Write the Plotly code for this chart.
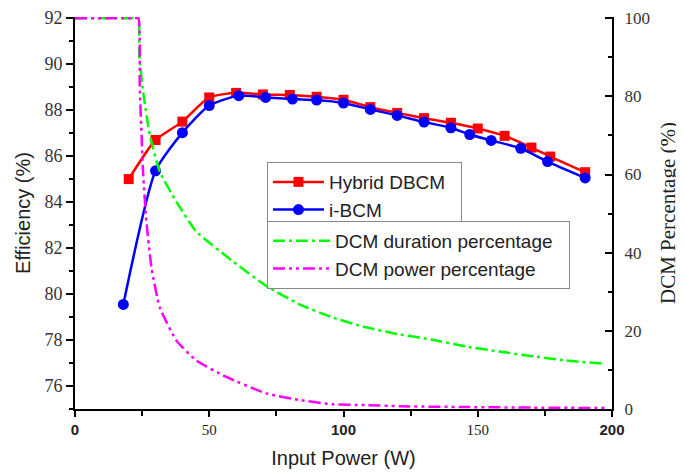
import plotly.graph_objects as go

# Efficiency data (left axis)
hybrid_x = [20, 30, 40, 50, 60, 70, 80, 90, 100, 110, 120, 130, 140, 150, 160, 170, 177, 190]
hybrid_y = [85.0, 86.7, 87.5, 88.55, 88.75, 88.68, 88.66, 88.58, 88.45, 88.13, 87.88, 87.65, 87.45, 87.2, 86.88, 86.37, 85.98, 85.3]

ibcm_x = [18, 30, 40, 50, 61, 71, 81, 90, 100, 110, 120, 130, 140, 147, 155, 166, 176, 190]
ibcm_y = [79.55, 85.36, 87.02, 88.2, 88.63, 88.55, 88.48, 88.44, 88.31, 88.03, 87.77, 87.48, 87.23, 86.94, 86.68, 86.34, 85.76, 85.05]

# DCM percentages (right axis)
dur_x = [0, 22, 23.6, 23.9, 25.4, 27.9, 31.6, 37.8, 45.2, 58.8, 71.2, 83.6, 96.0, 108.4, 120.8, 133.2, 145.6, 158.0, 170.4, 182.8, 196.5]
dur_y = [100, 100, 100, 91, 81, 70, 60.7, 53, 45.4, 37.8, 31.5, 26.8, 23.4, 20.9, 19.1, 17.7, 16.0, 14.7, 13.5, 12.4, 11.6]

pow_x = [0, 22, 23.6, 24.1, 24.8, 25.4, 26.6, 28.5, 31.6, 37.8, 45.2, 56.4, 71.2, 83.6, 96.0, 108.4, 120.8, 145.6, 170.4, 198]
pow_y = [100, 100, 100, 82.7, 70, 59.8, 48, 36.1, 26, 17.5, 12.4, 8.2, 4.0, 2.3, 1.2, 1.0, 0.7, 0.5, 0.35, 0.25]

x_tickvals = [0, 50, 100, 150, 200]
x_ticktext = ["<b>0</b>",
              "<span style='font-family:Liberation Serif;font-weight:normal'>50</span>",
              "<b>100</b>",
              "<span style='font-family:Liberation Serif;font-weight:normal'>150</span>",
              "<b>200</b>"]

NB = "\u00a0"

fig = go.Figure()

fig.add_trace(go.Scatter(
    x=dur_x, y=dur_y, yaxis="y2", mode="lines", name="DCM duration percentage" + NB * 2,
    line=dict(color="#00FF00", width=2.5, dash="12px,4px,3px,4px", shape="spline", smoothing=0.5),
    legend="legend2"))
fig.add_trace(go.Scatter(
    x=pow_x, y=pow_y, yaxis="y2", mode="lines", name="DCM power percentage",
    line=dict(color="#FF00FF", width=2.5, dash="12px,4px,3px,4px,3px,4px", shape="spline", smoothing=0.5),
    legend="legend2"))

fig.add_trace(go.Scatter(
    x=hybrid_x, y=hybrid_y, mode="lines+markers", name="Hybrid DBCM" + NB * 2,
    line=dict(color="#FF0000", width=2.5, shape="spline", smoothing=0.6),
    marker=dict(symbol="square", size=10, color="#FF0000"),
    legend="legend"))
fig.add_trace(go.Scatter(
    x=ibcm_x, y=ibcm_y, mode="lines+markers", name="i-BCM",
    line=dict(color="#0000FF", width=2.5, shape="spline", smoothing=0.6),
    marker=dict(symbol="circle", size=11, color="#0000FF"),
    legend="legend"))

fig.update_layout(
    width=676, height=464,
    margin=dict(l=67, r=72, t=9, b=63, autoexpand=False),
    paper_bgcolor="white", plot_bgcolor="white",
    showlegend=True,
    xaxis=dict(
        range=[0, 200], tickvals=x_tickvals, ticktext=x_ticktext, automargin=False,
        ticks="outside", ticklen=6, tickwidth=2, tickcolor="black", ticklabeloverflow="allow",
        minor=dict(tickvals=[25, 75, 125, 175], ticks="outside", ticklen=5, tickwidth=2, tickcolor="black"),
        showline=True, linecolor="black", linewidth=2, showgrid=False, zeroline=False,
        tickfont=dict(family="Liberation Sans", size=15, color="#222222"),
        title=dict(text="Input Power (W)", font=dict(family="Liberation Sans", size=20, color="#222222"), standoff=14),
    ),
    yaxis=dict(
        range=[75, 92.05], tick0=76, dtick=2, automargin=False, ticklabeloverflow="allow",
        ticks="outside", ticklen=7, tickwidth=2, tickcolor="black",
        minor=dict(dtick=1, tick0=75, ticks="outside", ticklen=4, tickwidth=2, tickcolor="black"),
        showline=True, linecolor="black", linewidth=2, showgrid=False, zeroline=False,
        tickfont=dict(family="Liberation Serif", size=18, color="#333333"),
        title=dict(text="Efficiency (%)", font=dict(family="Liberation Sans", size=20, color="#222222"), standoff=8),
    ),
    yaxis2=dict(
        range=[0, 100.3], overlaying="y", side="right", dtick=20, automargin=False, ticklabeloverflow="allow",
        ticks="inside", ticklen=7, tickwidth=2, tickcolor="black", ticklabelstandoff=7,
        minor=dict(dtick=10, ticks="inside", ticklen=4, tickwidth=2, tickcolor="black"),
        showline=True, linecolor="black", linewidth=2, showgrid=False, zeroline=False,
        tickfont=dict(family="Liberation Serif", size=17, color="#333333"),
        title=dict(text="DCM Percentage (%)", font=dict(family="Liberation Serif", size=21, color="#222222"), standoff=11),
    ),
    legend=dict(
        x=0.3575, y=0.630, xanchor="left", yanchor="top",
        bgcolor="white", bordercolor="#888888", borderwidth=1,
        font=dict(family="Liberation Sans", size=19, color="#222222"),
        tracegroupgap=0, itemwidth=51,
    ),
    legend2=dict(
        x=0.3575, y=0.480, xanchor="left", yanchor="top",
        bgcolor="white", bordercolor="#888888", borderwidth=1,
        font=dict(family="Liberation Sans", size=19, color="#222222"),
        tracegroupgap=0, itemwidth=57,
    ),
)

fig.write_html("out.html")
